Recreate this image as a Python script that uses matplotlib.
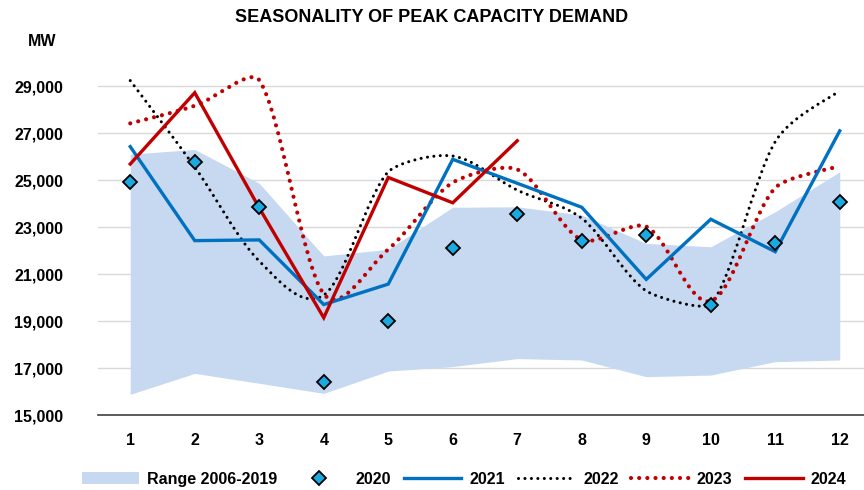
import numpy as np
import matplotlib
matplotlib.use("Agg")
import matplotlib.pyplot as plt
from matplotlib.path import Path
from matplotlib.patches import PathPatch, Patch
from matplotlib.lines import Line2D

plt.rcParams['font.family'] = ['Liberation Sans', 'DejaVu Sans']
plt.rcParams['font.weight'] = 'bold'

months = list(range(1, 13))
month_labels = [str(m) for m in months]

range_low = [15880, 16770, 16350, 15920, 16870, 17060, 17400, 17340, 16630, 16700, 17270, 17340]
range_high = [26100, 26300, 24860, 21770, 22050, 23840, 23860, 23510, 22300, 22160, 23650, 25350]

y2020 = [24900, 25780, 23840, 16420, 19000, 22090, 23550, 22420, 22660, 19680, 22300, 24080]
y2021 = [26420, 22420, 22450, 19700, 20570, 25880, 24860, 23840, 20770, 23330, 21950, 27090]
y2022 = [29230, 25550, 21550, 20100, 25350, 26020, 24570, 23370, 20280, 19700, 26630, 28800]
y2023 = [27410, 28160, 29250, 20150, 22050, 24890, 25450, 22450, 23020, 19850, 24670, 25600]
y2024 = [25680, 28715, 23810, 19140, 25110, 24030, 26670]

y_ticks = list(range(15000, 29001, 2000))

BAND = '#C6D9F1'
BLUE = '#0070C0'
RED = '#C00000'
CYAN = '#1BA9E1'


def smooth_path(xs, ys):
    """Cubic Bezier path through every point; tangent handles are limited to
    half of each segment so the curve does not swing far past its points."""
    pts = np.column_stack([xs, ys]).astype(float)
    n = len(pts)
    verts = [pts[0]]
    codes = [Path.MOVETO]
    for i in range(n - 1):
        p0 = pts[i - 1] if i > 0 else pts[i]
        p1 = pts[i]
        p2 = pts[i + 1]
        p3 = pts[i + 2] if i + 2 < n else pts[i + 1]
        d12 = np.hypot(*(p2 - p1))
        d02 = np.hypot(*(p2 - p0))
        d13 = np.hypot(*(p3 - p1))
        f1 = 1 / 6 if d02 / 6 < d12 / 2 else d12 / (2 * d02)
        f2 = 1 / 6 if d13 / 6 < d12 / 2 else d12 / (2 * d13)
        c1 = p1 + (p2 - p0) * f1
        c2 = p2 - (p3 - p1) * f2
        verts += [c1, c2, p2]
        codes += [Path.CURVE4] * 3
    return Path(verts, codes)


fig = plt.figure(figsize=(8.64, 4.9), dpi=100)
ax = fig.add_axes([98 / 864, 75 / 490, 774 / 864, 352.5 / 490])

ax.fill_between(months, range_low, range_high, color=BAND, lw=0, zorder=1)

dot22 = dict(lw=2.2, color='black', linestyle=(0, (0.01, 2.1)))
dot23 = dict(lw=3.0, color=RED, linestyle=(0, (0.01, 1.95)))

ax.add_patch(PathPatch(smooth_path(months, y2022), fill=False, zorder=3,
                       capstyle='round', **dot22))
ax.add_patch(PathPatch(smooth_path(months, y2023), fill=False, zorder=3,
                       capstyle='round', **dot23))
ax.plot(months, y2021, color=BLUE, lw=2.4, zorder=4, solid_joinstyle='miter')
ax.plot(months[:len(y2024)], y2024, color=RED, lw=2.4, zorder=5, solid_joinstyle='miter')
ax.plot(months, y2020, linestyle='none', marker='D', ms=7.5, mfc=CYAN, mec='black',
        mew=1.3, zorder=6)

ax.set_xlim(0.5, 12.5)
ax.set_ylim(15000, 30000)
ax.set_yticks(y_ticks)
ax.set_yticklabels([f"{v:,}" for v in y_ticks])
ax.set_xticks(months)
ax.set_xticklabels(month_labels)
ax.tick_params(axis='both', length=0, labelsize=11.5)
ax.tick_params(axis='y', pad=25)
ax.tick_params(axis='x', pad=13)
ax.grid(axis='y', color='#D9D9D9', lw=1.0)
ax.set_axisbelow(True)
for side in ('left', 'right', 'top'):
    ax.spines[side].set_visible(False)
ax.spines['bottom'].set_color('#404040')
ax.spines['bottom'].set_linewidth(1.2)

fig.text(0.5, 1 - 18 / 490, 'SEASONALITY OF PEAK CAPACITY DEMAND', ha='center', va='center',
         fontsize=13, fontweight='bold')
fig.text(42 / 864, 1 - 42 / 490, 'MW', ha='center', va='center', fontsize=11.5,
         fontweight='bold')

handles = [
    Patch(facecolor=BAND, edgecolor='none'),
    Line2D([], [], linestyle='none', marker='D', ms=7.5, mfc=CYAN, mec='black', mew=1.3),
    Line2D([], [], color=BLUE, lw=2.4),
    Line2D([], [], dash_capstyle='round', **dot22),
    Line2D([], [], dash_capstyle='round', **dot23),
    Line2D([], [], color=RED, lw=2.4),
]
labels = ['Range 2006-2019', '2020', '2021', '2022', '2023', '2024']
fig.legend(handles, labels, loc='center', bbox_to_anchor=(0.537, 11 / 490), ncol=6,
           frameon=False, fontsize=11.5, handlelength=3.6, handletextpad=0.5,
           columnspacing=0.8)

fig.savefig('out.png', dpi=100)
